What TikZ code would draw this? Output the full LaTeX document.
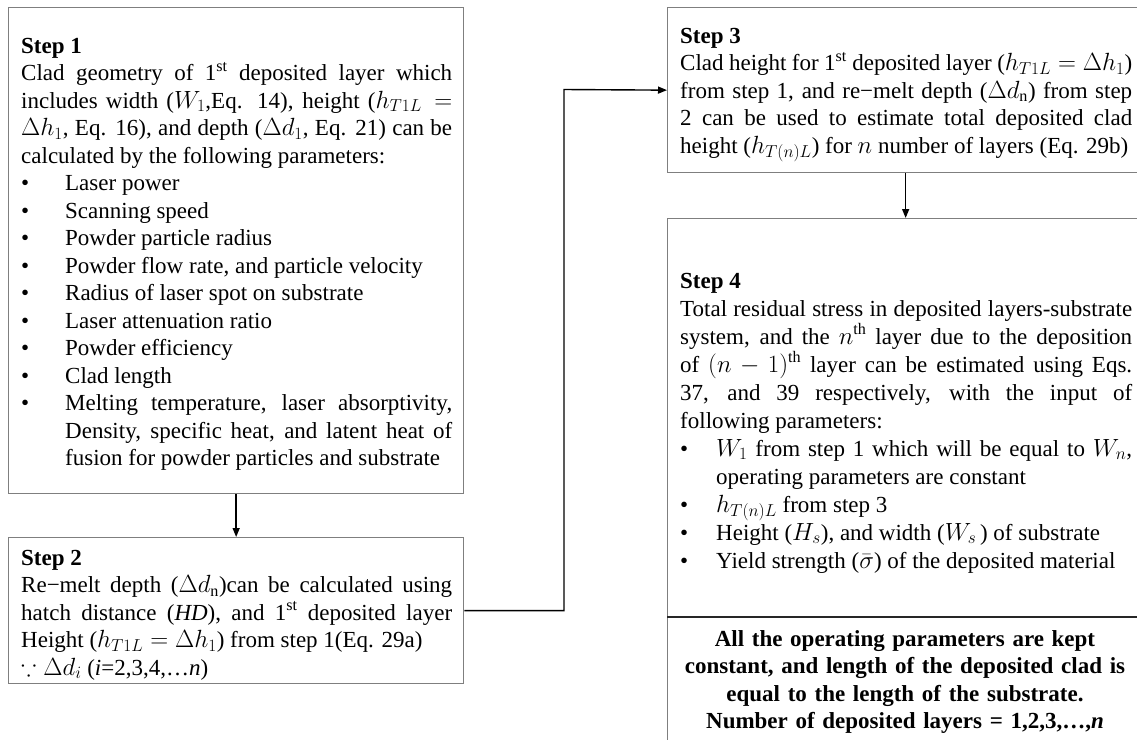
\documentclass[tikz,border=0pt]{standalone}
\usepackage{amssymb}
\usepackage{fontspec}
\setmainfont{Liberation Serif}
\usetikzlibrary{arrows.meta}
\definecolor{boxgray}{HTML}{7F7F7F}
\hyphenpenalty=10000
\exhyphenpenalty=10000
\tolerance=9999
\newcommand{\bitem}[2]{\par\hangindent=#1\relax\hangafter=1\relax\noindent\makebox[#1][l]{\textbullet}#2\par}
\tikzset{
  box/.style={draw=boxgray, line width=1.3pt, anchor=north west, inner sep=0pt},
  txt/.style={anchor=base west, inner sep=0pt, align=justify, font=\fontsize{23}{27.5}\selectfont},
  arr/.style={draw=black, line width=1.4pt, -{Triangle[length=9pt,width=7pt]}},
  divider/.style={draw=black!85, line width=1.4pt}
}
\begin{document}
\begin{tikzpicture}[x=1pt,y=-1pt]
\clip (0,0) rectangle (1137,739);
\fill[white] (0,0) rectangle (1137,739);
% boxes
\node[box, minimum width=455pt, minimum height=486pt] (s1) at (8,7) {};
\node[box, minimum width=455pt, minimum height=146pt] (s2) at (8,537) {};
\node[box, minimum width=476pt, minimum height=165pt] (s3) at (667,7) {};
\node[box, minimum width=476pt, minimum height=399pt] (s4) at (667,218) {};
\node[box, minimum width=476pt, minimum height=130pt] (note) at (667,617) {};
\draw[divider] (note.north west) -- (note.north east);
% texts
\node[txt, text width=431pt] (t1) at (21,53) {\textbf{Step 1}\par
Clad geometry of 1\textsuperscript{st} deposited layer which\linebreak includes width ($W_1$,Eq. 14), height ($h_{T1L}=$\linebreak $\Delta h_1$, Eq. 16), and depth ($\Delta d_1$, Eq. 21) can be\linebreak calculated by the following parameters:\par
\bitem{44pt}{Laser power}
\bitem{44pt}{Scanning speed}
\bitem{44pt}{Powder particle radius}
\bitem{44pt}{Powder flow rate, and particle velocity}
\bitem{44pt}{Radius of laser spot on substrate}
\bitem{44pt}{Laser attenuation ratio}
\bitem{44pt}{Powder efficiency}
\bitem{44pt}{Clad length}
\bitem{44pt}{Melting temperature, laser absorptivity,\linebreak Density, specific heat, and latent heat of\linebreak fusion for powder particles and substrate}};
\node[txt, text width=431pt] (t2) at (21,565) {\textbf{Step 2}\par
Re−melt depth ($\Delta d_{\mathrm{n}}$)can be calculated using\linebreak hatch distance (\textit{HD}), and 1\textsuperscript{st} deposited layer\linebreak Height ($h_{T1L} = \Delta h_1$) from step 1(Eq. 29a)\par
$\because \Delta d_i$ (\textit{i}=2,3,4,…\textit{n})};
\node[txt, text width=452pt] (t3) at (680,43) {\textbf{Step 3}\par
Clad height for 1\textsuperscript{st} deposited layer ($h_{T1L} = \Delta h_1$)\linebreak from step 1, and re−melt depth ($\Delta d_{\mathrm{n}}$) from step\linebreak 2 can be used to estimate total deposited clad\linebreak height ($h_{T(n)L}$) for $n$ number of layers (Eq. 29b)};
\node[txt, text width=452pt, font=\fontsize{23}{28}\selectfont] (t4) at (680,288) {\textbf{Step 4}\par
Total residual stress in deposited layers-substrate\linebreak system, and the $n^{\mathrm{th}}$ layer due to the deposition\linebreak of $(n-1)^{\mathrm{th}}$ layer can be estimated using Eqs.\linebreak 37, and 39 respectively, with the input of\linebreak following parameters:\par
\bitem{36pt}{$W_1$ from step 1 which will be equal to $W_n$,\linebreak operating parameters are constant}
\bitem{36pt}{$h_{T(n)L}$ from step 3}
\bitem{36pt}{Height ($H_s$), and width ($W_s$\,) of substrate}
\bitem{36pt}{Yield strength ($\bar{\sigma}$) of the deposited material}};
\node[anchor=base, inner sep=0pt, text width=452pt, align=center, font=\fontsize{23}{27.5}\selectfont\bfseries] (t5) at (905,646) {All the operating parameters are kept\\constant, and length of the deposited clad is\\equal to the length of the substrate.\\Number of deposited layers = 1,2,3,…,\textit{n}};
% connectors
\coordinate (j) at (564,89.5);
\draw[arr] (s1.south) -- (s2.north);
\draw[arr] (s2.east) -| (j) -- (s3.west);
\draw[arr] (s3.south) -- (s4.north);
\end{tikzpicture}
\end{document}
